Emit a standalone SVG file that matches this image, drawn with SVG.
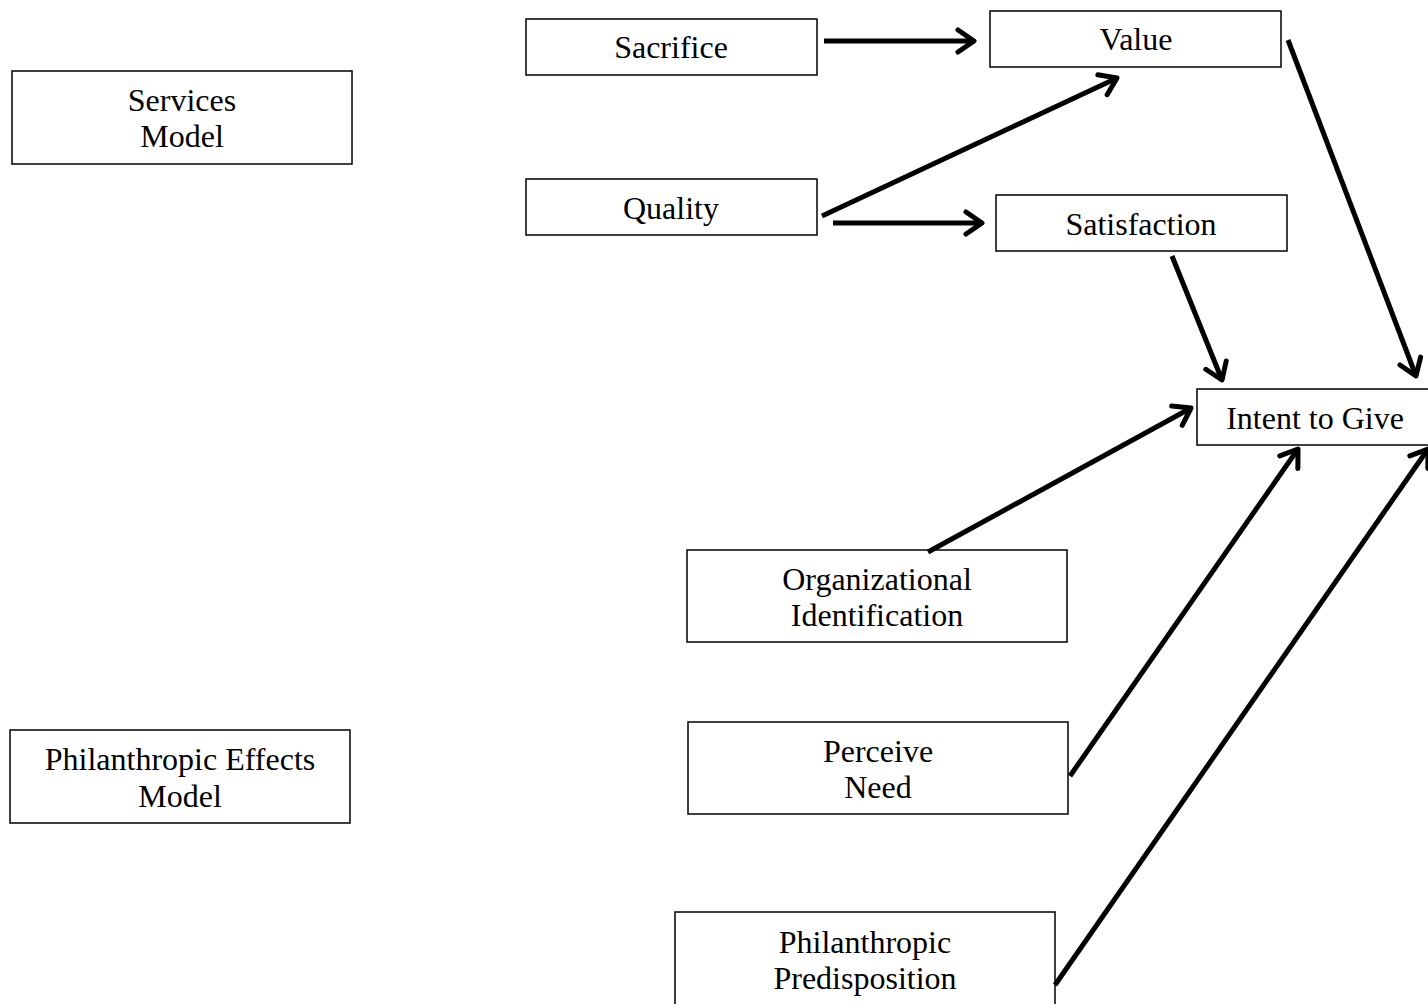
<svg xmlns="http://www.w3.org/2000/svg" width="1428" height="1004" viewBox="0 0 1428 1004">
<style>
.box{fill:#fff;stroke:#000;stroke-width:1.5}
.t{font-family:"Liberation Serif","Times New Roman",serif;font-size:32px;fill:#000;text-anchor:middle}
.c{stroke:#000;stroke-width:5;fill:none;marker-end:url(#ah)}
</style>
<defs>
<marker id="ah" markerUnits="userSpaceOnUse" markerWidth="40" markerHeight="40" viewBox="-30 -20 40 40" refX="0" refY="0" orient="auto">
<path d="M-16,-11 L0,0 L-16,11" fill="none" stroke="#000" stroke-width="5" stroke-linecap="round" stroke-linejoin="round"/>
</marker>
</defs>
<rect width="1428" height="1004" fill="#fff"/>
<g id="services-model"><rect class="box" x="12" y="71" width="340" height="93"/><text class="t" x="182" y="111">Services</text><text class="t" x="182" y="147">Model</text></g>
<g id="philanthropic-effects-model"><rect class="box" x="10" y="730" width="340" height="93"/><text class="t" x="180" y="770">Philanthropic Effects</text><text class="t" x="180" y="807">Model</text></g>
<g id="sacrifice"><rect class="box" x="526" y="19" width="291" height="56"/><text class="t" x="671" y="58">Sacrifice</text></g>
<g id="value"><rect class="box" x="990" y="11" width="291" height="56"/><text class="t" x="1136" y="50">Value</text></g>
<g id="quality"><rect class="box" x="526" y="179" width="291" height="56"/><text class="t" x="671" y="219">Quality</text></g>
<g id="satisfaction"><rect class="box" x="996" y="195" width="291" height="56"/><text class="t" x="1141" y="235">Satisfaction</text></g>
<g id="intent"><rect class="box" x="1197" y="389" width="240" height="56"/><text class="t" x="1315" y="429">Intent to Give</text></g>
<g id="org-identification"><rect class="box" x="687" y="550" width="380" height="92"/><text class="t" x="877" y="590">Organizational</text><text class="t" x="877" y="626">Identification</text></g>
<g id="perceive-need"><rect class="box" x="688" y="722" width="380" height="92"/><text class="t" x="878" y="762">Perceive</text><text class="t" x="878" y="798">Need</text></g>
<g id="philanthropic-predisposition"><rect class="box" x="675" y="912" width="380" height="100"/><text class="t" x="865" y="953">Philanthropic</text><text class="t" x="865" y="989">Predisposition</text></g>
<g id="connectors">
<line class="c" x1="824" y1="41" x2="974" y2="41"/>
<line class="c" x1="822" y1="216" x2="1117" y2="78"/>
<line class="c" x1="833" y1="223" x2="982" y2="223"/>
<line class="c" x1="1288" y1="40" x2="1416" y2="376"/>
<line class="c" x1="1172" y1="256" x2="1222" y2="380"/>
<line class="c" x1="928" y1="552" x2="1191" y2="408"/>
<line class="c" x1="1070" y1="776" x2="1298" y2="449"/>
<line class="c" x1="1055" y1="985" x2="1428" y2="449"/>
</g>
</svg>
